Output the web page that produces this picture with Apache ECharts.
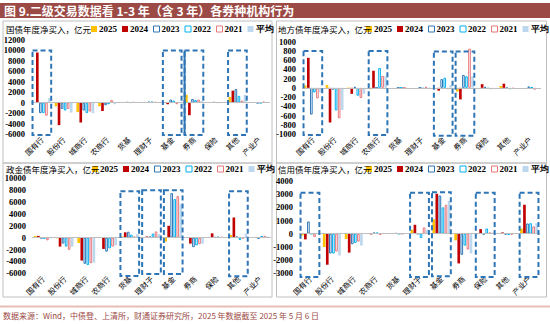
<!DOCTYPE html>
<html><head><meta charset="utf-8">
<script src="https://cdn.jsdelivr.net/npm/echarts@6/dist/echarts.min.js"></script>
<style>html,body{margin:0;padding:0;background:#fff}#c{width:550px;height:324px}</style>
</head><body><div id="c"></div>
<script>
const categories = ['国有行','股份行','城商行','农商行','货基','理财子','基金','券商','保险','其他','产业户'];
const seriesNames = ['2025','2024','2023','2022','2021','平均'];
const panelTitles = ['国债年度净买入，亿元','地方债年度净买入，亿元','政金债年度净买入，亿元','信用债年度净买入，亿元'];

// 国债 (rows: 2025, 2024, 2023, 2022, 2021, 平均)
const govtValues = [
  [100, -700, -1800, -700, 50, 100, 0, 1500, 100, 1100, 100],
  [9600, -4300, -3800, -1600, 50, 50, -300, -2400, 50, 2300, 0],
  [-2000, -1200, -1500, -500, 100, 200, 600, 700, 100, 2600, -100],
  [-2000, -1500, -2000, -300, 50, 200, 400, 500, 50, 1300, -100],
  [-2500, -1200, -1700, 500, 100, 100, -300, 600, 50, 400, 200],
  [900, -1900, -2000, -300, 50, 100, 100, 300, 50, 1500, 100]
];
// 地方债
const localValues = [
  [50, 60, 10, -30, 0, 0, 0, -80, 0, 40, 0],
  [650, -750, -130, 370, 0, 0, -60, -250, 80, 90, 0],
  [-580, -40, 20, 0, 0, 0, 190, 280, 20, -10, 30],
  [-100, -490, -170, 430, 0, -20, 220, 250, -20, -30, 10],
  [-230, -660, -220, 260, 0, 20, -30, 850, -30, -20, -40],
  [-100, -480, -130, 250, 0, 10, 60, 250, -20, 0, 0]
];
// 政金债
const policyValues = [
  [300, -100, -900, 0, 200, 0, -650, 0, 100, 450, 50],
  [300, -1500, -3850, -1900, 900, 200, 2000, -1000, 730, 3400, 0],
  [-100, -1000, -4400, -2350, 1000, 200, 7500, -1600, 100, 200, -200],
  [-200, -1500, -4600, -1800, 500, 700, 6500, -1300, 200, -400, 300],
  [-450, -2050, -4300, -1500, 200, 1050, 7000, -1100, 100, -100, 300],
  [-100, -1500, -4200, -1300, 600, 600, 5700, -1000, 100, 700, 200]
];
// 信用债
const creditValues = [
  [-130, -1000, -400, 50, 0, 300, 1100, -500, 0, 50, 400],
  [-430, -2350, -1430, -50, 0, 680, 3030, -2250, 350, 100, 2200],
  [930, -1500, -800, 100, 50, 0, 2900, -1600, -50, -50, 780],
  [0, -1500, -700, 100, 0, -330, 2000, -900, 400, -100, 800],
  [-250, -1350, -600, -100, 0, 480, 2200, -1200, 100, -50, 560],
  [0, -1640, -900, 0, 0, 300, 2500, -1500, 100, 0, 800]
];
// dashed highlight boxes: [category index, top, bottom, solid left edge]
const govtBoxes = [[0, 10000, -6200, 0], [6, 10000, -6200, 0], [7, 10000, -6200, 1], [9, 10000, -6200, 0]];
const localBoxes = [[0, 800, -1020, 0], [3, 800, -1020, 0], [6, 790, -1040, 0], [7, 790, -1040, 0]];
const policyBoxes = [[4, 7800, -6450, 0], [5, 8000, -6100, 0], [6, 8000, -6100, 0], [9, 7800, -6500, 0]];
const creditBoxes = [[0, 3100, -3280, 0], [5, 3100, -3280, 0], [6, 3150, -3230, 0], [8, 3100, -3280, 0], [10, 3100, -3280, 0]];
const yRanges = [[-6000, 12000, 2000], [-1000, 1000, 200], [-6000, 10000, 2000], [-3000, 4000, 1000]];

const panelValues = [govtValues, localValues, policyValues, creditValues];
const panelBoxes = [govtBoxes, localBoxes, policyBoxes, creditBoxes];

const grids = [
  {left: 31, top: 40, width: 239, height: 94},
  {left: 302, top: 41.7, width: 239, height: 92.3},
  {left: 32, top: 178.3, width: 239, height: 95},
  {left: 299, top: 181, width: 241, height: 92.3}
];
const titlePos = [[6, 24], [278, 24], [6, 163.5], [278, 163.5]];
const legendPos = [[91, 24.5], [366, 24.5], [92, 164.5], [366, 164.5]];

const styles = [
  {color: '#FFC000'},
  {color: '#C00000'},
  {color: 'rgba(255,255,255,0)', borderColor: '#2E75B6', borderWidth: 1},
  {color: 'rgba(255,255,255,0)', borderColor: '#00B0F0', borderWidth: 1},
  {color: 'rgba(255,255,255,0)', borderColor: '#E8767A', borderWidth: 1},
  {color: '#BDD7EE'}
];
const legendStyles = [
  {color: '#FFC000', borderWidth: 0},
  {color: '#C00000', borderWidth: 0},
  {color: '#fff', borderColor: '#2E75B6', borderWidth: 1},
  {color: '#fff', borderColor: '#00B0F0', borderWidth: 1},
  {color: '#fff', borderColor: '#E8767A', borderWidth: 1},
  {color: '#BDD7EE', borderWidth: 0}
];

const serif = '"Liberation Serif","Times New Roman",serif';
const cjk = '"Noto Sans CJK SC","Noto Sans",sans-serif';

const series = [];
panelValues.forEach((vals, p) => {
  vals.forEach((row, k) => {
    const s = {
      type: 'bar', name: seriesNames[k], xAxisIndex: p, yAxisIndex: p,
      data: row, itemStyle: styles[k], barGap: '15%', barCategoryGap: '18%',
      silent: true, animation: false
    };
    if (k === 0) {
      s.markLine = {silent: true, symbol: 'none', label: {show: false},
        lineStyle: {color: '#BFBFBF', width: 1, type: 'solid'}, data: [{yAxis: 0}]};
    }
    series.push(s);
  });
  series.push({
    type: 'custom', xAxisIndex: p, yAxisIndex: p, silent: true, animation: false,
    data: panelBoxes[p], encode: {x: 0, y: [1, 2]}, z: 5,
    renderItem: function (params, api) {
      const a = api.coord([api.value(0), api.value(1)]);
      const b = api.coord([api.value(0), api.value(2)]);
      const w = api.size([1, 0])[0] * 0.86;
      const children = [{type: 'rect', shape: {x: a[0] - w / 2, y: a[1], width: w, height: b[1] - a[1]},
        style: {fill: 'none', stroke: '#2E75B6', lineWidth: 2, lineDash: [5, 3]}}];
      if (api.value(3) === 1) {
        children.push({type: 'line', shape: {x1: a[0] - w / 2, y1: a[1], x2: a[0] - w / 2, y2: b[1]},
          style: {stroke: '#2E75B6', lineWidth: 2}});
      }
      return {type: 'group', children: children};
    }
  });
});

const option = {
  animation: false,
  backgroundColor: '#fff',
  grid: grids,
  title: panelTitles.map((t, i) => ({text: t, left: titlePos[i][0], top: titlePos[i][1], padding: 0,
    textStyle: {fontSize: 8.5, fontWeight: 'normal', color: '#000', fontFamily: cjk, lineHeight: 10}})),
  legend: legendPos.map(pos => ({
    data: seriesNames.map((n, k) => ({name: n, itemStyle: legendStyles[k]})),
    left: pos[0], top: pos[1], width: 200, padding: 0, itemWidth: 6, itemHeight: 6,
    itemGap: 5, icon: 'rect', selectedMode: false,
    textStyle: {fontSize: 9, fontWeight: 'bold', color: '#000', fontFamily: serif, padding: [0, 0, 0, -3]}})),
  xAxis: grids.map((g, i) => ({type: 'category', gridIndex: i, data: categories,
    axisLine: {show: false}, axisTick: {show: false},
    axisLabel: {rotate: 45, fontSize: 7.5, color: '#000', margin: 4, interval: 0, fontFamily: cjk}})),
  yAxis: yRanges.map((r, i) => ({type: 'value', gridIndex: i, min: r[0], max: r[1], interval: r[2],
    axisLine: {show: false}, axisTick: {show: false}, splitLine: {show: false},
    axisLabel: {fontSize: 8.5, fontWeight: 'bold', color: '#000', fontFamily: serif, margin: 6,
      formatter: v => String(v)}})),
  graphic: [
    {type: 'rect', shape: {x: 0, y: 3, width: 550, height: 15}, style: {fill: '#9C4A45'}},
    {type: 'text', left: 4, top: 4, style: {text: '图 9.二级交易数据看 1-3 年（含 3 年）各券种机构行为', fill: '#fff',
      font: 'bold 12px "Noto Sans CJK SC", sans-serif'}},
    {type: 'rect', shape: {x: 3, y: 21, width: 269, height: 142}, style: {fill: 'none', stroke: '#BFBFBF', lineWidth: 1}, z: -1},
    {type: 'rect', shape: {x: 276.5, y: 21, width: 270, height: 142}, style: {fill: 'none', stroke: '#BFBFBF', lineWidth: 1}, z: -1},
    {type: 'rect', shape: {x: 3, y: 163, width: 269, height: 134}, style: {fill: 'none', stroke: '#BFBFBF', lineWidth: 1}, z: -1},
    {type: 'rect', shape: {x: 276.5, y: 163, width: 270, height: 134}, style: {fill: 'none', stroke: '#BFBFBF', lineWidth: 1}, z: -1},
    {type: 'rect', shape: {x: 0, y: 305.5, width: 550, height: 2}, style: {fill: '#E8BDB6'}},
    {type: 'text', left: 3, top: 311, style: {text: '数据来源：Wind，中债登、上清所，财通证券研究所，2025 年数据截至 2025 年 5 月 6 日',
      fill: '#9C4A45', font: '8px "Noto Sans CJK SC", sans-serif'}}
  ],
  series: series
};
const chart = echarts.init(document.getElementById('c'), null, {renderer: 'svg'});
chart.setOption(option);
</script></body></html>
